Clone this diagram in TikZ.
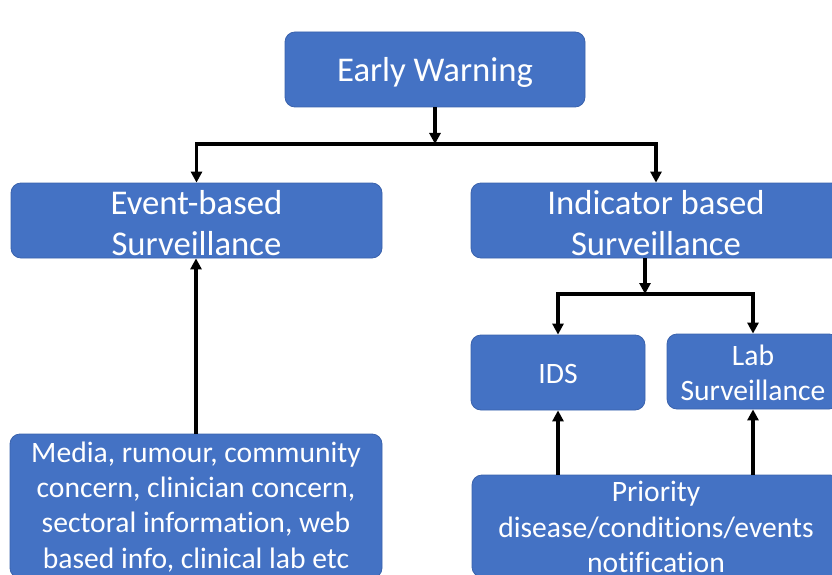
\documentclass[tikz,border=0pt]{standalone}
\usepackage{fontspec}
\setmainfont{Carlito}[Ligatures={NoCommon}]
\usetikzlibrary{arrows.meta}
\definecolor{boxblue}{HTML}{4472C4}
\definecolor{boxedge}{HTML}{3A62AC}
\begin{document}
\begin{tikzpicture}[x=1pt,y=-1pt,
  box/.style={draw=boxedge,line width=0.8pt,fill=boxblue,rounded corners=10pt,inner sep=0pt},
  caption/.style={text=white,align=center,inner sep=0pt,yshift=-2.5pt},
  bigtext/.style={font=\fontsize{34.7}{41.5}\selectfont},
  smalltext/.style={font=\fontsize{29.6}{35.2}\selectfont},
  tip/.tip={Triangle[length=11pt,width=11pt]},
  link/.style={line width=3.4pt,line join=miter,arrows={-tip}},
  twolink/.style={line width=3.4pt,line join=miter,arrows={tip-tip}}]
\useasboundingbox (0,0) rectangle (832,575);
\clip (0,0) rectangle (832,575);

% boxes, each with its caption set slightly below the centre
\node[box,minimum width=300pt,minimum height=75pt,
  label={[name=ewt,caption,bigtext]center:Early Warning}] (ew) at (435,69.5) {};
\node[box,minimum width=371pt,minimum height=75pt,
  label={[name=ebst,caption,bigtext]center:{Event-based\\Surveillance}}] (ebs) at (196.5,220.5) {};
\node[box,minimum width=370pt,minimum height=75pt,
  label={[name=ibst,caption,bigtext]center:{Indicator based\\Surveillance}}] (ibs) at (656,220.5) {};
\node[box,minimum width=174pt,minimum height=75pt,
  label={[name=idst,caption,smalltext,yshift=1.5pt]center:IDS}] (ids) at (558,372.5) {};
\node[box,minimum width=172pt,minimum height=75pt,
  label={[name=labt,caption,smalltext,yshift=1.5pt]center:{Lab\\Surveillance}}] (lab) at (753,371.5) {};
\node[box,minimum width=372pt,minimum height=144pt,
  label={[name=mediat,caption,smalltext,yshift=1.5pt]center:{Media, rumour, community\\concern, clinician concern,\\sectoral information, web\\based info, clinical lab etc}}] (media) at (196,506) {};
\node[box,minimum width=368pt,minimum height=102pt,
  label={[name=priot,caption,smalltext,yshift=1.5pt]center:{Priority\\disease/conditions/events\\notification}}] (prio) at (656,526) {};

% junction points
\coordinate (top) at (435,144);
\coordinate (split) at (645,294);

% connectors
\draw[link] (ew.south) -- (top);
\draw[twolink] (ebs.north) -- (ebs.north |- top) -- (ibs.north |- top) -- (ibs.north);
\draw[link] (ibs.south -| split) -- (split);
\draw[twolink] (ids.north) -- (ids.north |- split) -- (lab.north |- split) -- (lab.north);
\draw[link] (media.north) -- (media.north |- ebs.south);
\draw[link] (prio.north -| ids) -- (ids.south);
\draw[link] (prio.north -| lab) -- (lab.south);
\end{tikzpicture}
\end{document}
